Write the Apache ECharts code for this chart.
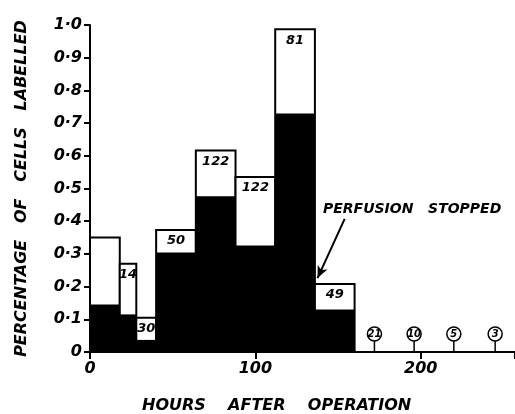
<!DOCTYPE html>
<html>
<head>
<meta charset="utf-8">
<script src="https://cdn.jsdelivr.net/npm/echarts@6/dist/echarts.min.js"></script>
<style>
  html, body { margin: 0; padding: 0; background: #fff; }
  #chart { width: 515px; height: 414px; }
</style>
</head>
<body>
<div id="chart"></div>
<script>
// histogram bins (hours after operation)
const binStart = [0, 18, 28, 40, 64, 88, 112, 136];
const binEnd = [18, 28, 40, 64, 88, 112, 136, 160];
// fraction of cells labelled: whole bar (open) and solid part
const totalFrac = [0.35, 0.27, 0.105, 0.373, 0.616, 0.535, 0.987, 0.208];
const solidFrac = [0.145, 0.115, 0.037, 0.304, 0.476, 0.326, 0.729, 0.13];
const cellCounts = ['', '14', '30', '50', '122', '122', '81', '49'];
// later samples with no labelled cells
const zeroHours = [172, 196, 220, 245];
const zeroCounts = ['21', '10', '5', '3'];

const FONT = 'DejaVu Sans';
const ink = '#000';
const font = size => 'italic bold ' + size + 'px "' + FONT + '"';

const chart = echarts.init(document.getElementById('chart'));

const barData = binStart.map((s, i) => [s, binEnd[i], totalFrac[i], solidFrac[i], cellCounts[i]]);
const zeroData = zeroHours.map((h, i) => [h, 0, zeroCounts[i]]);

/** draw one histogram bin: open box to the total, solid block to the labelled part */
function renderBin(params, api) {
  const s = api.value(0), e = api.value(1);
  const tot = api.value(2), sol = api.value(3);
  const label = barData[params.dataIndex][4];
  const base = api.coord([s, 0]);
  const top = api.coord([e, tot]);
  const mid = api.coord([e, sol]);
  return {
    type: 'group',
    children: [
      {
        type: 'rect',
        shape: { x: base[0], y: top[1], width: top[0] - base[0], height: base[1] - top[1] },
        style: { fill: '#fff', stroke: ink, lineWidth: 2 }
      },
      {
        type: 'rect',
        shape: { x: base[0], y: mid[1], width: mid[0] - base[0], height: base[1] - mid[1] },
        style: { fill: ink }
      },
      {
        type: 'text',
        x: (base[0] + top[0]) / 2,
        y: top[1] + 11,
        style: { text: label, fill: ink, align: 'center', verticalAlign: 'middle', font: font(13) }
      }
    ]
  };
}

/** circled count on a short stem for the empty samples */
function renderZero(params, api) {
  const p = api.coord([api.value(0), 0]);
  const label = zeroData[params.dataIndex][2];
  return {
    type: 'group',
    children: [
      { type: 'line', shape: { x1: p[0], y1: p[1], x2: p[0], y2: p[1] - 11 }, style: { stroke: ink, lineWidth: 1.5 } },
      { type: 'circle', shape: { cx: p[0], cy: p[1] - 18, r: 7 }, style: { fill: '#fff', stroke: ink, lineWidth: 1.5 } },
      {
        type: 'text', x: p[0], y: p[1] - 18,
        style: { text: label, fill: ink, align: 'center', verticalAlign: 'middle', font: font(10) }
      }
    ]
  };
}

chart.setOption({
  backgroundColor: '#fff',
  animation: false,
  grid: { left: 90, right: 0, top: 25, bottom: 62, containLabel: false, outerBoundsMode: 'none' },
  xAxis: {
    type: 'value', min: 0, max: 257, interval: 100,
    splitLine: { show: false },
    axisLine: { lineStyle: { color: ink, width: 2 } },
    axisTick: { length: 7, lineStyle: { color: ink, width: 2 } },
    axisLabel: {
      color: ink, fontFamily: FONT, fontStyle: 'italic', fontWeight: 'bold', fontSize: 16, margin: 9,
      formatter: v => (v % 100 === 0 ? String(v) : '')
    }
  },
  yAxis: {
    type: 'value', min: 0, max: 1, interval: 0.1,
    name: 'PERCENTAGE   OF   CELLS   LABELLED',
    nameLocation: 'middle', nameRotate: 90, nameGap: 60,
    nameTextStyle: { color: ink, fontFamily: FONT, fontStyle: 'italic', fontWeight: 'bold', fontSize: 16 },
    splitLine: { show: false },
    axisLine: { show: true, lineStyle: { color: ink, width: 2 } },
    axisTick: { show: true, length: 6, lineStyle: { color: ink, width: 2 } },
    axisLabel: {
      color: ink, fontFamily: FONT, fontStyle: 'italic', fontWeight: 'bold', fontSize: 16, margin: 8,
      formatter: v => (v === 0 ? '0' : v.toFixed(1).replace('.', '·'))
    }
  },
  graphic: [
    {
      type: 'text', left: 142, top: 398,
      style: { text: 'HOURS    AFTER    OPERATION', fill: ink, font: font(16) }
    },
    {
      type: 'text', left: 323, top: 202,
      style: { text: 'PERFUSION   STOPPED', fill: ink, font: font(14) }
    }
  ],
  series: [
    {
      type: 'custom',
      renderItem: renderBin,
      data: barData.map(d => d.slice(0, 4)),
      encode: { x: [0, 1], y: [2, 3] },
      markLine: {
        silent: true,
        symbol: ['none', 'arrow'], symbolSize: [8, 12],
        lineStyle: { color: ink, width: 2, type: 'solid' },
        label: { show: false },
        data: [[{ coord: [154, 0.407] }, { coord: [137.6, 0.226] }]]
      }
    },
    {
      type: 'custom',
      renderItem: renderZero,
      data: zeroData.map(d => d.slice(0, 2)),
      encode: { x: 0, y: 1 }
    }
  ]
});
</script>
</body>
</html>
